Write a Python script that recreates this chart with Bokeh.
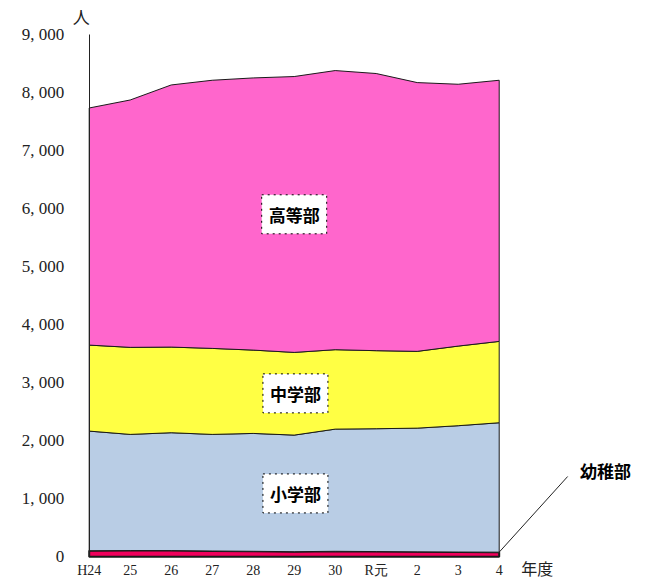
from bokeh.plotting import figure
from bokeh.models import Range1d, FixedTicker, Label
from bokeh.embed import file_html
from bokeh.resources import INLINE

# ---- data ----
years = ["H24", "25", "26", "27", "28", "29", "30", "R元", "2", "3", "4"]
kinder = [105, 108, 107, 100, 95, 88, 95, 90, 85, 82, 80]
elementary = [2061, 2001, 2031, 2009, 2031, 2009, 2105, 2117, 2132, 2177, 2230]
junior = [1482, 1500, 1476, 1482, 1436, 1425, 1369, 1345, 1323, 1372, 1402]
high = [4086, 4263, 4517, 4621, 4690, 4754, 4810, 4776, 4632, 4512, 4500]
series_names = ["幼稚部", "小学部", "中学部", "高等部"]
y_ticks = [0, 1000, 2000, 3000, 4000, 5000, 6000, 7000, 8000, 9000]
y_tick_labels = ["0", "1, 000", "2, 000", "3, 000", "4, 000", "5, 000",
                 "6, 000", "7, 000", "8, 000", "9, 000"]
y_unit = "人"
x_unit = "年度"

colors = ["#F0005C", "#B9CDE5", "#FFFF44", "#FF66CC"]
serif = "Liberation Serif"
cjk = "Noto Sans CJK JP"

W, H = 646, 579
x0_px, px_per_x = 88.7, 41.0
y0_px, px_per_y = 556.3, 0.05803

xs = list(range(len(years)))
p = figure(width=W, height=H, output_backend="svg", toolbar_location=None,
           x_range=Range1d(-x0_px / px_per_x, (W - x0_px) / px_per_x),
           y_range=Range1d(-(H - y0_px) / px_per_y, y0_px / px_per_y),
           min_border=0)
p.grid.visible = False
p.outline_line_color = None

lower = [0] * len(xs)
for name, vals, col in zip(series_names, [kinder, elementary, junior, high], colors):
    upper = [a + b for a, b in zip(lower, vals)]
    p.patch(xs + xs[::-1], upper + lower[::-1], fill_color=col,
            line_color="#1a1a1a", line_width=2 if name == "幼稚部" else 1)
    lower = upper

# x axis
xa = p.xaxis[0]
xa.fixed_location = 0
xa.ticker = FixedTicker(ticks=xs)
xa.major_label_overrides = {i: y for i, y in enumerate(years)}
xa.axis_line_color = None
xa.major_tick_line_color = None
xa.minor_tick_line_color = None
xa.major_tick_out = 0
xa.major_tick_in = 0
xa.major_label_standoff = 6
xa.major_label_text_font = serif
xa.major_label_text_font_size = "14px"
xa.major_label_text_color = "#222222"

# y axis
ya = p.yaxis[0]
ya.fixed_location = 0
ya.ticker = FixedTicker(ticks=y_ticks)
ya.major_label_overrides = {t: l for t, l in zip(y_ticks, y_tick_labels)}
ya.bounds = (0, 9000)
ya.axis_line_color = "#222222"
ya.axis_line_width = 1
ya.major_tick_line_color = None
ya.minor_tick_line_color = None
ya.major_tick_out = 0
ya.major_tick_in = 0
ya.major_label_standoff = 25
ya.major_label_text_font = serif
ya.major_label_text_font_size = "17px"
ya.major_label_text_color = "#222222"

p.add_layout(Label(x=0, y=y_ticks[-1], x_offset=-8, y_offset=18, text=y_unit,
                   text_align="center", text_baseline="middle",
                   text_font=cjk, text_font_size="17px", text_color="#222222"))
p.add_layout(Label(x=xs[-1], y=0, x_offset=38, y_offset=-11, text=x_unit,
                   text_align="center", text_baseline="middle",
                   text_font=cjk, text_font_size="16px", text_color="#222222"))

# boxed series labels
for txt, lx, ly in [("高等部", 5, 5902), ("中学部", 5.03, 2816), ("小学部", 5.03, 1092)]:
    p.add_layout(Label(x=lx, y=ly, text=txt, text_align="center", text_baseline="middle",
                       text_font=cjk, text_font_style="bold", text_font_size="17px",
                       text_color="black", background_fill_color="white",
                       border_line_color="black", border_line_dash="dotted",
                       border_line_width=1, padding=7))

# kindergarten callout
end_x, end_y = 11.67, 1384
p.line([xs[-1], end_x], [kinder[-1], end_y], line_color="#222222", line_width=1)
p.add_layout(Label(x=12.59, y=1487, text="幼稚部", text_align="center",
                   text_baseline="middle", text_font=cjk, text_font_style="bold",
                   text_font_size="17px", text_color="black"))

open("out.html", "w").write(file_html(p, INLINE))
